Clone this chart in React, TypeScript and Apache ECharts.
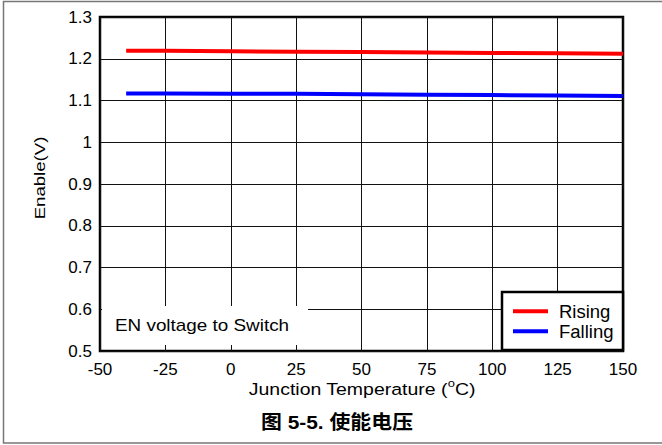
import React, { useEffect, useRef } from "react";
import * as echarts from "echarts";

const temps = [-40, -25, 0, 25, 50, 75, 100, 125, 150];
const rising = [1.219, 1.219, 1.218, 1.217, 1.216, 1.215, 1.214, 1.213, 1.212];
const falling = [1.117, 1.117, 1.116, 1.116, 1.115, 1.114, 1.113, 1.112, 1.111];
const seriesNames = ["Rising", "Falling"];
const xName = "Junction Temperature (";
const yName = "Enable(V)";
const noteText = "EN voltage to Switch";
const titleText = "图 5-5. 使能电压";

const FONT = '"Liberation Sans", Arial, "Noto Sans CJK SC", sans-serif';

export default function App() {
  const ref = useRef<HTMLDivElement>(null);
  useEffect(() => {
    if (!ref.current) return;
    const chart = echarts.init(ref.current, null, { renderer: "svg" });
    const legendText = { color: "#000", fontSize: 18.5, fontFamily: FONT, padding: [0, 0, 0, 6], lineHeight: 18 };
    chart.setOption({
      animation: false,
      textStyle: { fontFamily: FONT },
      grid: {
        left: 100,
        top: 17,
        right: 39,
        bottom: 94,
        show: true,
        borderColor: "#000",
        borderWidth: 2.5,
        backgroundColor: "transparent",
      },
      xAxis: {
        type: "value",
        min: -50,
        max: 150,
        interval: 25,
        axisLine: { show: false },
        axisTick: { show: false },
        axisLabel: { color: "#000", fontSize: 17, margin: 10, fontFamily: FONT },
        splitLine: { show: true, lineStyle: { color: "#111", width: 1 } },
      },
      yAxis: {
        type: "value",
        min: 0.5,
        max: 1.3,
        interval: 0.1,
        axisLine: { show: false },
        axisTick: { show: false },
        axisLabel: {
          color: "#000",
          fontSize: 17,
          margin: 8,
          fontFamily: FONT,
          formatter: (v: number) => String(Math.round(v * 10) / 10),
        },
        splitLine: { show: true, lineStyle: { color: "#111", width: 1 } },
      },
      legend: [
        {
          data: [seriesNames[0]],
          left: 513,
          top: 302,
          icon: "rect",
          itemWidth: 35,
          itemHeight: 4,
          itemGap: 0,
          padding: 0,
          z: 10,
          textStyle: legendText,
        },
        {
          data: [seriesNames[1]],
          left: 513,
          top: 322,
          icon: "rect",
          itemWidth: 35,
          itemHeight: 4,
          itemGap: 0,
          padding: 0,
          z: 10,
          textStyle: legendText,
        },
      ],
      series: [
        {
          name: seriesNames[0],
          type: "line",
          data: temps.map((t, i) => [t, rising[i]]),
          showSymbol: false,
          symbol: "none",
          lineStyle: { color: "#ff0000", width: 4 },
          itemStyle: { color: "#ff0000" },
          z: 3,
        },
        {
          name: seriesNames[1],
          type: "line",
          data: temps.map((t, i) => [t, falling[i]]),
          showSymbol: false,
          symbol: "none",
          lineStyle: { color: "#0000ff", width: 4 },
          itemStyle: { color: "#0000ff" },
          z: 3,
        },
      ],
      graphic: [
        {
          type: "rect",
          z: 1,
          silent: true,
          shape: { x: 3.5, y: 1.5, width: 700, height: 441.5 },
          style: { fill: "none", stroke: "#777", lineWidth: 1.5 },
        },
        {
          type: "rect",
          z: 5,
          silent: true,
          shape: { x: 102, y: 306, width: 206, height: 39 },
          style: { fill: "#fff", stroke: "none" },
        },
        {
          type: "text",
          z: 6,
          silent: true,
          x: 115,
          y: 326,
          scaleX: 1.18,
          style: {
            text: noteText,
            fill: "#000",
            font: `16px ${FONT}`,
            verticalAlign: "middle",
            align: "left",
          },
        },
        {
          type: "rect",
          z: 5,
          silent: true,
          shape: { x: 502, y: 292, width: 121, height: 58 },
          style: { fill: "#fff", stroke: "#000", lineWidth: 2.5 },
        },
        {
          type: "text",
          z: 6,
          silent: true,
          x: 40,
          y: 178,
          rotation: Math.PI / 2,
          scaleX: 1.2,
          style: {
            text: yName,
            fill: "#000",
            font: `15.5px ${FONT}`,
            align: "center",
            verticalAlign: "middle",
          },
        },
        {
          type: "text",
          z: 6,
          silent: true,
          x: 362,
          y: 388,
          scaleX: 1.18,
          style: {
            text: `{n|${xName}}{s|o}{n|C)}`,
            align: "center",
            verticalAlign: "middle",
            rich: {
              n: { fontSize: 16.5, lineHeight: 20, fontFamily: FONT, fill: "#000", color: "#000", verticalAlign: "bottom" },
              s: { fontSize: 11, lineHeight: 11, fontFamily: FONT, fill: "#000", color: "#000", verticalAlign: "top" },
            },
          },
        },
        {
          type: "text",
          z: 6,
          silent: true,
          x: 337,
          y: 422,
          scaleX: 1.1,
          style: {
            text: titleText,
            fill: "#000",
            font: `bold 19px ${FONT}`,
            align: "center",
            verticalAlign: "middle",
          },
        },
      ],
    });
    return () => chart.dispose();
  }, []);
  return (
    <div
      ref={ref}
      style={{ position: "absolute", left: 0, top: 0, width: 662, height: 445, background: "#fff" }}
    />
  );
}
